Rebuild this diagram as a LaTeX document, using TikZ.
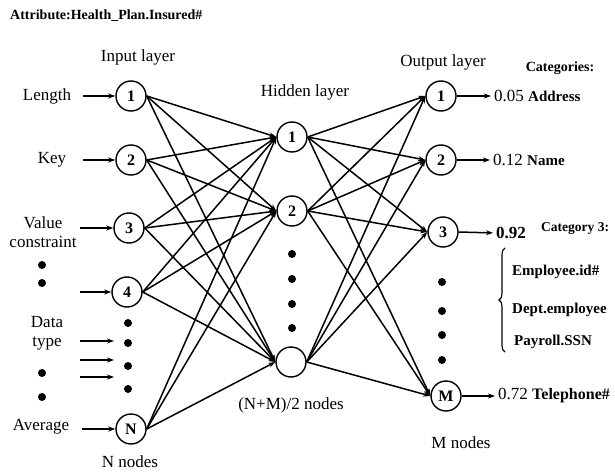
\documentclass[tikz,border=0pt]{standalone}
\usepackage{fontspec}
\setmainfont{Liberation Serif}
\usetikzlibrary{arrows.meta, positioning, decorations.pathreplacing}

\begin{document}
\begin{tikzpicture}[x=1pt,y=-1pt,
  neuron/.style={circle,draw,line width=1.4pt,minimum size=30pt,inner sep=0pt,font=\fontsize{16}{18}\selectfont\bfseries},
  link/.style={line width=1.5pt,-{Stealth[length=7pt,width=5pt]}},
  dot/.style={circle,fill,inner sep=0pt,minimum size=8pt},
  lbl/.style={font=\fontsize{17}{19}\selectfont},
  small/.style={font=\fontsize{15}{17}\selectfont\bfseries}]
\useasboundingbox (0,0) rectangle (615,473);

% input layer
\node[neuron] (I1) at (131,96) {1};
\node[neuron] (I2) at (131,160) {2};
\node[neuron] (I3) at (129,228) {3};
\node[neuron] (I4) at (127,292) {4};
\node[neuron] (IN) at (131,429) {N};
\foreach \y in {323,343,366,389} \node[dot] at (128,\y) {};

% hidden layer
\node[neuron] (H1) at (292,137) {1};
\node[neuron] (H2) at (292,211) {2};
\node[neuron] (H3) at (291,362) {};
\foreach \y in {254,279,304,328} \node[dot] at (292,\y) {};

% output layer
\node[neuron] (O1) at (441,96) {1};
\node[neuron] (O2) at (441,160) {2};
\node[neuron] (O3) at (443,232) {3};
\node[neuron] (OM) at (446,396) {M};
\foreach \y in {282,311,335,360} \node[dot] at (442,\y) {};

% connections
\foreach \i in {I1,I2,I3,I4,IN}
  \foreach \h in {H1,H2,H3}
    \draw[link] (\i.east) -- (\h.west);
\foreach \h in {H1,H2,H3}
  \foreach \o in {O1,O2,O3,OM}
    \draw[link] (\h.east) -- (\o.west);

% inputs
\node[lbl] (len) at (47,96) {Length};
\node[lbl] (key) at (52,160) {Key};
\node[lbl,align=center,inner sep=0pt] (val) at (43,232) {Value\\constraint};
\node[lbl,align=center,inner sep=0pt] (dtype) at (47,333) {Data\\type};
\node[lbl] (avg) at (41,427) {Average};
\foreach \y in {265,283,373,397} \node[dot] at (42,\y) {};
\coordinate (a1) at (83,96);
\coordinate (a2) at (83,160);
\coordinate (a3) at (80,228);
\coordinate (a4) at (80,292);
\coordinate (aN) at (82,429);
\draw[link] (a1) -- (I1.west);
\draw[link] (a2) -- (I2.west);
\draw[link] (a3) -- (I3.west);
\draw[link] (a4) -- (I4.west);
\draw[link] (aN) -- (IN.west);
\foreach \y [count=\k] in {341,360,377} {
  \coordinate (ds\k) at (80,\y);
  \coordinate (de\k) at (114,\y);
  \draw[link,line width=1.1pt] (ds\k) -- (de\k);
}

% outputs
\node[lbl,anchor=west,inner sep=0pt] (r1) at (494,96) {0.05 {\fontsize{15}{17}\selectfont\bfseries Address}};
\node[lbl,anchor=west,inner sep=0pt] (r2) at (493,160) {0.12 {\fontsize{15}{17}\selectfont\bfseries Name}};
\node[lbl,anchor=west,inner sep=0pt,font=\fontsize{17}{19}\selectfont\bfseries] (r3) at (496,233) {0.92};
\node[small,font=\fontsize{13.5}{16}\selectfont\bfseries,anchor=west,inner sep=0pt] (cat3) at (541,229) {Category 3:};
\node[lbl,anchor=west,inner sep=0pt] (rM) at (498,396) {0.72 {\fontsize{16}{18}\selectfont\bfseries Telephone\#}};
\draw[link,shorten >=3pt] (O1.east) -- (r1.west);
\draw[link,shorten >=3pt] (O2.east) -- (r2.west);
\draw[link,shorten >=3pt] (O3.east) -- (r3.west);
\draw[link,shorten >=3pt] (OM.east) -- (rM.west);
\node[small,anchor=west,inner sep=0pt] (emp) at (512,272) {Employee.id\#};
\node[small,anchor=west,inner sep=0pt] (dept) at (512,310) {Dept.employee};
\node[small,anchor=west,inner sep=0pt] (pay) at (514,342) {Payroll.SSN};
\draw[line width=1.1pt,decorate,decoration={brace,amplitude=6pt}] (505,352) -- (505,248);

% titles
\node[small,font=\fontsize{14}{16}\selectfont\bfseries,anchor=west,inner sep=0pt] (attr) at (10,16) {Attribute:Health\_Plan.Insured\#};
\node[lbl] (inlay) at (138,57) {Input layer};
\node[lbl] (hidlay) at (305,92) {Hidden layer};
\node[lbl] (outlay) at (443,62) {Output layer};
\node[small,font=\fontsize{14}{16}\selectfont\bfseries] (cats) at (560,68) {Categories:};
\node[lbl] (nn) at (130,462) {N nodes};
\node[lbl] (hn) at (291,405) {(N+M)/2 nodes};
\node[lbl] (mn) at (461,443) {M nodes};
\end{tikzpicture}
\end{document}
